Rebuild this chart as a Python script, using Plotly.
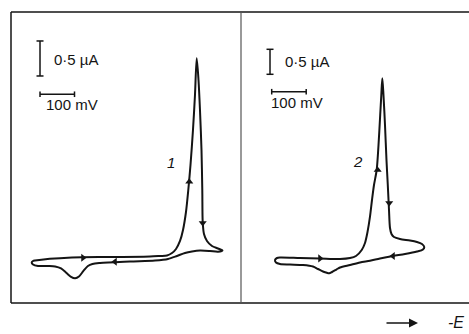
import plotly.graph_objects as go

W, H = 469, 334

# ---- data: panel 1 (E in mV, I in uA) ----
E1 = [69.6, 176.8, 287.0, 402.9, 431.9, 452.2, 466.7, 478.3, 489.9, 498.6, 507.2, 513.9,
      520.3, 527.5, 533.3, 538.3, 543.5, 547.8, 552.2, 554.5, 555.7, 559.4, 568.1, 582.6,
      600.0, 613.0, 600.0, 576.8, 547.8, 524.6, 504.3, 481.2, 455.1, 417.4, 344.9, 258.0,
      236.0, 223.0, 210.0, 197.0, 186.0, 174.0, 160.0, 145.0, 128.0, 110.0, 78.3, 63.8,
      60.0, 63.8, 69.6]
I1 = [-0.036, 0.007, 0.014, 0.021, 0.029, 0.036, 0.071, 0.129, 0.243, 0.40, 0.657, 0.971,
      1.329, 1.829, 2.329, 2.853, 2.543, 2.114, 1.543, 0.971, 0.514, 0.343, 0.243, 0.171,
      0.136, 0.107, 0.089, 0.100, 0.107, 0.093, 0.071, 0.029, -0.014, -0.036, -0.050, -0.071,
      -0.085, -0.115, -0.185, -0.265, -0.290, -0.270, -0.210, -0.150, -0.122, -0.115, -0.114,
      -0.093, -0.064, -0.043, -0.036]

# ---- data: panel 2 ----
E2 = [113.0, 171.0, 229.0, 287.0, 316.0, 333.3, 349.9, 359.4, 366.7, 373.9, 379.7, 385.5,
      393.3, 398.6, 403.5, 406.7, 409.6, 413.0, 417.4, 421.7, 425.5, 429.0, 431.9, 436.2,
      443.5, 460.9, 489.9, 510.1, 524.6, 531.3, 527.5, 510.1, 475.4, 440.6, 402.9, 373.9,
      344.9, 316.0, 287.0, 277.4, 263.8, 255.9, 246.4, 237.7, 223.2, 208.7, 179.7, 142.0,
      113.0, 101.4, 98.6, 104.3, 113.0]
I2 = [0.01, 0.0, -0.01, -0.02, 0.0, 0.04, 0.16, 0.30, 0.52, 0.826, 1.16, 1.46,
      1.76, 2.26, 2.86, 3.26, 3.594, 3.26, 2.66, 1.96, 1.46, 0.96, 0.60, 0.48,
      0.42, 0.38, 0.35, 0.32, 0.28, 0.22, 0.17, 0.13, 0.08, 0.04, -0.01, -0.054,
      -0.09, -0.14, -0.19, -0.226, -0.28, -0.306, -0.29, -0.27, -0.22, -0.17, -0.14, -0.13,
      -0.12, -0.09, -0.04, 0.0, 0.01]

# direction arrows (E, I, symbol)
arrows1_E = [208.7, 516.8, 555.7, 301.4]
arrows1_I = [0.004, 1.09, 0.50, -0.054]
arrows2_E = [229.0, 396.2, 429.6, 440.6]
arrows2_I = [-0.008, 1.76, 1.10, 0.04]
arrow_symbols = ["triangle-right", "triangle-up", "triangle-down", "triangle-left"]

# scale bars
bar_I = 0.5      # uA
bar_E = 100      # mV
bar_labels = ["0·5 µA", "100 mV"]
curve_labels = ["1", "2"]

INK = "#141414"

fig = go.Figure()

def add_panel(E, I, aE, aI, xa, ya, barx, bary_top, hbar_x, hbar_y, lab_pos, num, num_pos):
    fig.add_trace(go.Scatter(x=E, y=I, mode="lines", xaxis=xa, yaxis=ya,
                             line=dict(color=INK, width=2, shape="spline", smoothing=0.8),
                             hoverinfo="skip", showlegend=False))
    fig.add_trace(go.Scatter(x=aE, y=aI, mode="markers", xaxis=xa, yaxis=ya,
                             marker=dict(symbol=arrow_symbols, size=7, color=INK),
                             hoverinfo="skip", showlegend=False))
    # vertical scale bar
    fig.add_trace(go.Scatter(x=[barx, barx], y=[bary_top, bary_top - bar_I], mode="lines+markers",
                             xaxis=xa, yaxis=ya, line=dict(color=INK, width=1.5),
                             marker=dict(symbol="line-ew", size=5, line=dict(color=INK, width=1.5)),
                             hoverinfo="skip", showlegend=False))
    # horizontal scale bar
    fig.add_trace(go.Scatter(x=[hbar_x, hbar_x + bar_E], y=[hbar_y, hbar_y], mode="lines+markers",
                             xaxis=xa, yaxis=ya, line=dict(color=INK, width=1.5),
                             marker=dict(symbol="line-ns", size=4, line=dict(color=INK, width=1.5)),
                             hoverinfo="skip", showlegend=False))
    fig.add_annotation(x=lab_pos[0][0], y=lab_pos[0][1], xref=xa, yref=ya, text=bar_labels[0],
                       showarrow=False, xanchor="left", yanchor="middle",
                       font=dict(size=15, color=INK))
    fig.add_annotation(x=lab_pos[1][0], y=lab_pos[1][1], xref=xa, yref=ya, text=bar_labels[1],
                       showarrow=False, xanchor="left", yanchor="middle",
                       font=dict(size=15, color=INK))
    fig.add_annotation(x=num_pos[0], y=num_pos[1], xref=xa, yref=ya, text="<i>%s</i>" % num,
                       showarrow=False, font=dict(size=15, color=INK))

add_panel(E1, I1, arrows1_E, arrows1_I, "x", "y", 84.1, 3.10, 84.1, 2.339,
          [(118.0, 2.829), (96.0, 2.19)], curve_labels[0], (463.8, 1.357))
add_panel(E2, I2, arrows2_E, arrows2_I, "x2", "y2", 84.1, 4.174, 89.0, 3.326,
          [(121.0, 3.926), (82.0, 3.10)], curve_labels[1], (339.1, 1.92))

def px(x):
    return x / W

def py(y):
    return 1 - y / H

ydom = [py(303), py(12)]
fig.update_layout(
    width=W, height=H, margin=dict(l=0, r=0, t=0, b=0),
    paper_bgcolor="white", plot_bgcolor="white",
    font=dict(family="Liberation Sans, Arial, sans-serif", color=INK),
    xaxis=dict(domain=[px(11), px(241)], range=[0, 666.7], visible=False),
    yaxis=dict(domain=ydom, range=[-0.643, 3.514], visible=False),
    xaxis2=dict(domain=[px(241), 1.0], range=[0, 660.9], visible=False, anchor="y2"),
    yaxis2=dict(domain=ydom, range=[-0.9, 4.92], visible=False, anchor="x2"),
)

# frame
frame = [
    (11, 12, 469, 12, 1.5, INK),
    (11, 303, 469, 303, 1.5, INK),
    (11, 12, 11, 303, 1.5, INK),
    (241, 12, 241, 303, 1.2, "#555555"),
]
for x0, y0, x1, y1, w, c in frame:
    fig.add_shape(type="line", xref="paper", yref="paper",
                  x0=px(x0), y0=py(y0), x1=px(x1), y1=py(y1),
                  line=dict(color=c, width=w))

# -E direction arrow
fig.add_annotation(xref="paper", yref="paper", x=px(418), y=py(323), ax=-33, ay=0,
                   axref="pixel", ayref="pixel", showarrow=True, arrowhead=2,
                   arrowsize=1.2, arrowwidth=1.5, arrowcolor=INK, text="")
fig.add_annotation(xref="paper", yref="paper", x=px(446), y=py(322), text="<i>-E</i>",
                   showarrow=False, xanchor="left", yanchor="middle",
                   font=dict(size=16, color=INK))

fig.write_html("out.html")
